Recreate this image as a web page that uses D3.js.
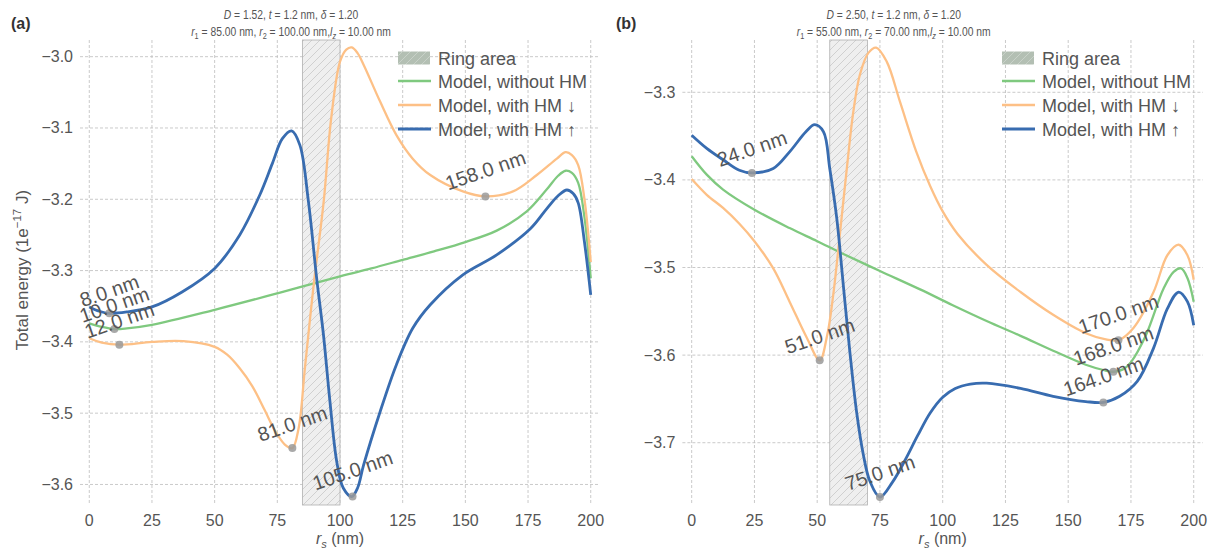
<!DOCTYPE html>
<html>
<head>
<meta charset="utf-8">
<script src="https://cdn.jsdelivr.net/npm/d3@7"></script>
<style>
  body { margin: 0; background: #fff; }
  text { font-family: "Liberation Sans", Arial, sans-serif; }
</style>
</head>
<body>
<svg id="chart"></svg>
<script>
let width = 1215;
let height = 549;

// ---- panel (a) data: D = 1.52, r1 = 85, r2 = 100 ----
let greenA_x = [0, 5, 10, 15, 25, 50, 75, 100, 112.5, 125, 137.5, 150, 162.5, 174.5, 182.5, 187, 190, 192.5, 195, 197.5, 200];
let greenA_y = [-3.374, -3.379, -3.382, -3.381, -3.376, -3.355, -3.332, -3.308, -3.297, -3.285, -3.273, -3.26, -3.244, -3.217, -3.186, -3.167, -3.160, -3.163, -3.177, -3.225, -3.311];

let orangeA_x = [0, 5, 12, 25, 37.5, 50, 55, 60, 65, 70, 74, 78, 81, 83.5, 86, 89.5, 93.5, 96.5, 100, 102.5, 104.7, 107, 109.5, 116, 122.5, 129, 136, 149, 158, 169, 178.5, 186.5, 190, 192.5, 195, 197.5, 200];
let orangeA_y = [-3.395, -3.401, -3.404, -3.400, -3.399, -3.407, -3.418, -3.437, -3.462, -3.496, -3.524, -3.544, -3.549, -3.521, -3.437, -3.32, -3.203, -3.086, -3.007, -2.99, -2.987, -2.995, -3.012, -3.063, -3.11, -3.143, -3.166, -3.189, -3.196, -3.189, -3.166, -3.143, -3.134, -3.138, -3.152, -3.2, -3.288];

let blueA_x = [0, 4, 8, 15, 25, 37, 50, 60, 68, 73, 77, 80.7, 84, 87.4, 90.7, 93.4, 96, 98.7, 101.3, 104.7, 107, 109.4, 116, 122.5, 129, 136, 149, 162.5, 176, 182.5, 187, 190.5, 193, 195, 197.5, 200];
let blueA_y = [-3.351, -3.357, -3.360, -3.358, -3.351, -3.33, -3.297, -3.25, -3.194, -3.150, -3.115, -3.104, -3.124, -3.203, -3.311, -3.39, -3.484, -3.568, -3.605, -3.617, -3.605, -3.573, -3.498, -3.432, -3.381, -3.348, -3.306, -3.278, -3.241, -3.213, -3.195, -3.187, -3.192, -3.205, -3.26, -3.334];

let notesA_x = [8, 10, 12, 81, 105, 158];
let notesA_y = [-3.360, -3.382, -3.404, -3.549, -3.617, -3.196];

// ---- panel (b) data: D = 2.50, r1 = 55, r2 = 70 ----
let greenB_x = [0, 6, 12.5, 25, 39, 50, 60, 75, 91, 104, 117.5, 131, 144, 157, 164, 168, 172, 175, 181, 188, 192, 195, 197.5, 200];
let greenB_y = [-3.373, -3.394, -3.411, -3.434, -3.455, -3.47, -3.484, -3.504, -3.525, -3.543, -3.561, -3.578, -3.595, -3.611, -3.617, -3.619, -3.616, -3.608, -3.577, -3.524, -3.505, -3.501, -3.512, -3.539];

let orangeB_x = [0, 6, 12.5, 19, 25, 32.5, 39, 46, 51, 54, 56.4, 59, 61.8, 64.4, 67, 70.4, 73.5, 77.7, 83, 89.5, 95, 100, 106, 117.5, 131, 144, 157, 165, 170, 176, 184, 189.5, 194, 197.5, 200];
let orangeB_y = [-3.399, -3.417, -3.432, -3.45, -3.47, -3.501, -3.539, -3.581, -3.606, -3.577, -3.531, -3.463, -3.387, -3.322, -3.28, -3.255, -3.249, -3.265, -3.311, -3.368, -3.407, -3.436, -3.462, -3.497, -3.528, -3.554, -3.575, -3.582, -3.583, -3.569, -3.528, -3.486, -3.474, -3.486, -3.514];

let blueB_x = [0, 6, 12.5, 19, 24, 32.5, 39, 45.5, 49, 52.5, 55, 57.8, 60.4, 63, 65.7, 68.4, 71, 75, 80, 85, 90, 95, 100, 105, 111, 117.5, 131, 144, 157, 164, 170.5, 177.5, 184, 189.5, 194, 197.5, 200];
let blueB_y = [-3.349, -3.364, -3.377, -3.389, -3.392, -3.387, -3.368, -3.345, -3.337, -3.345, -3.387, -3.444, -3.52, -3.596, -3.665, -3.714, -3.744, -3.762, -3.745, -3.72, -3.692, -3.666, -3.648, -3.638, -3.633, -3.632, -3.638, -3.647, -3.653, -3.654, -3.647, -3.63, -3.592, -3.547, -3.528, -3.539, -3.566];

let notesB_x = [24, 51, 75, 170, 168, 164];
let notesB_y = [-3.392, -3.606, -3.762, -3.583, -3.619, -3.654];

// axis ticks
let xTicks = [0, 25, 50, 75, 100, 125, 150, 175, 200];
let yTicksA = [-3.6, -3.5, -3.4, -3.3, -3.2, -3.1, -3.0];
let yTicksB = [-3.7, -3.6, -3.5, -3.4, -3.3];

let legendLabels = ['Ring area', 'Model, without HM', 'Model, with HM \u2193', 'Model, with HM \u2191'];
let colors = {green: '#7fc97f', orange: '#fdc086', blue: '#386cb0'};

let svg = d3.select('#chart')
  .attr('width', width)
  .attr('height', height);

svg.append('rect').attr('width', width).attr('height', height).attr('fill', '#fff');

// hatch pattern for the ring area
let defs = svg.append('defs');
function hatch(id, bg, fg) {
  let p = defs.append('pattern')
    .attr('id', id)
    .attr('patternUnits', 'userSpaceOnUse')
    .attr('width', 8).attr('height', 8);
  p.append('rect').attr('width', 8).attr('height', 8).attr('fill', bg);
  p.append('path').attr('d', 'M-2,2 L2,-2 M0,8 L8,0 M6,10 L10,6')
    .attr('stroke', fg).attr('stroke-width', 0.8);
}
hatch('hatchPlot', '#efefef', '#c8c8c8');
hatch('hatchLegend', '#b3bfb3', '#cdd5cd');

function fmt(v) {
  return d3.format('.1f')(v).replace('-', '\u2212');
}

function drawPanel(cfg) {
  let x = d3.scaleLinear().domain([-3.7, 203.7]).range([cfg.left, cfg.right]);
  let y = d3.scaleLinear().domain(cfg.yDomain).range([505, 40]);
  let g = svg.append('g');

  // grid
  g.selectAll('.vgrid').data(xTicks).enter().append('line')
    .attr('x1', d => x(d)).attr('x2', d => x(d))
    .attr('y1', 40).attr('y2', 505)
    .attr('stroke', '#bdbdbd').attr('stroke-width', 0.8).attr('stroke-dasharray', '3,2');
  g.selectAll('.hgrid').data(cfg.yTicks).enter().append('line')
    .attr('x1', cfg.left).attr('x2', cfg.right)
    .attr('y1', d => y(d)).attr('y2', d => y(d))
    .attr('stroke', '#bdbdbd').attr('stroke-width', 0.8).attr('stroke-dasharray', '3,2');

  // tick labels
  g.selectAll('.xt').data(xTicks).enter().append('text')
    .attr('x', d => x(d)).attr('y', 526)
    .attr('text-anchor', 'middle').attr('font-size', 16).attr('fill', '#555')
    .text(d => d);
  g.selectAll('.yt').data(cfg.yTicks).enter().append('text')
    .attr('x', cfg.left - 7).attr('y', d => y(d) + 5.5)
    .attr('text-anchor', 'end').attr('font-size', 16).attr('fill', '#555')
    .text(d => fmt(d));

  // ring area
  g.append('rect')
    .attr('x', x(cfg.ring[0])).attr('width', x(cfg.ring[1]) - x(cfg.ring[0]))
    .attr('y', 40).attr('height', 465)
    .attr('fill', 'url(#hatchPlot)').attr('stroke', '#b0b0b0').attr('stroke-width', 0.8);

  // curves
  let line = d3.line()
    .x(d => x(d[0]))
    .y(d => y(d[1]))
    .curve(d3.curveCatmullRom.alpha(0.5));

  cfg.series.forEach(s => {
    g.append('path')
      .datum(d3.zip(s.xs, s.ys))
      .attr('fill', 'none')
      .attr('stroke', s.color)
      .attr('stroke-width', s.w)
      .attr('stroke-linejoin', 'round')
      .attr('d', line);
  });

  // annotated minima
  let notes = d3.zip(cfg.notesX, cfg.notesY);
  g.selectAll('.dot').data(notes).enter().append('circle')
    .attr('cx', d => x(d[0])).attr('cy', d => y(d[1])).attr('r', 4)
    .attr('fill', '#9a9a9a').attr('opacity', 0.85);

  let ang = 19 * Math.PI / 180;
  notes.forEach(d => {
    let t = g.append('text')
      .attr('font-size', 20).attr('fill', '#555')
      .attr('text-anchor', 'middle').attr('dominant-baseline', 'central')
      .text(d[0].toFixed(1) + ' nm');
    let w = t.node().getComputedTextLength();
    let H = w * Math.sin(ang) + 14 * Math.cos(ang);
    t.attr('transform', `translate(${x(d[0])},${y(d[1]) - 6 - H / 2}) rotate(-19)`);
  });

  // title (two lines, slightly condensed like the original)
  let cx = (cfg.left + cfg.right) / 2 - 49;
  let tg = g.append('g').attr('transform', `translate(${cx},0) scale(0.86,1)`);
  let t1 = tg.append('text').attr('x', 0).attr('y', 19)
    .attr('text-anchor', 'middle').attr('font-size', 12).attr('fill', '#555');
  t1.append('tspan').attr('font-style', 'italic').text('D');
  t1.append('tspan').text(' = ' + cfg.D + ', ');
  t1.append('tspan').attr('font-style', 'italic').text('t');
  t1.append('tspan').text(' = 1.2 nm, ');
  t1.append('tspan').attr('font-style', 'italic').text('\u03b4');
  t1.append('tspan').text(' = 1.20');

  let t2 = tg.append('text').attr('x', 0).attr('y', 36)
    .attr('text-anchor', 'middle').attr('font-size', 12).attr('fill', '#555');
  t2.append('tspan').attr('font-style', 'italic').text('r');
  t2.append('tspan').attr('font-size', 8.5).attr('dy', 3).text('1');
  t2.append('tspan').attr('dy', -3).text(' = ' + cfg.r1 + ' nm, ');
  t2.append('tspan').attr('font-style', 'italic').text('r');
  t2.append('tspan').attr('font-size', 8.5).attr('dy', 3).text('2');
  t2.append('tspan').attr('dy', -3).text(' = ' + cfg.r2 + ' nm,');
  t2.append('tspan').attr('font-style', 'italic').text('l');
  t2.append('tspan').attr('font-size', 8.5).attr('font-style', 'italic').attr('dy', 3).text('z');
  t2.append('tspan').attr('dy', -3).text(' = 10.00 nm');

  // panel letter
  g.append('text').attr('x', cfg.letterX).attr('y', 29)
    .attr('font-size', 16).attr('font-weight', 'bold').attr('fill', '#333')
    .text(cfg.letter);

  // x axis label
  let xl = g.append('text').attr('x', x(100)).attr('y', 544)
    .attr('text-anchor', 'middle').attr('font-size', 16).attr('fill', '#555');
  xl.append('tspan').attr('font-style', 'italic').text('r');
  xl.append('tspan').attr('font-style', 'italic').attr('font-size', 11).attr('dy', 4).text('s');
  xl.append('tspan').attr('dy', -4).text(' (nm)');

  // legend
  let lg = g.append('g').attr('transform', `translate(${cfg.legendX},0)`);
  let rowY = [58, 81, 105, 129];
  lg.append('rect').attr('x', 0).attr('y', rowY[0] - 6.5).attr('width', 32).attr('height', 13)
    .attr('fill', 'url(#hatchLegend)');
  [colors.green, colors.orange, colors.blue].forEach((c, i) => {
    lg.append('line').attr('x1', 0).attr('x2', 33)
      .attr('y1', rowY[i + 1]).attr('y2', rowY[i + 1])
      .attr('stroke', c).attr('stroke-width', i === 2 ? 3 : 2.6);
  });
  legendLabels.forEach((lab, i) => {
    lg.append('text').attr('x', 40).attr('y', rowY[i] + 6.5)
      .attr('font-size', 18).attr('fill', '#555').text(lab);
  });
}

drawPanel({
  left: 80, right: 600,
  yDomain: [-3.6288, -2.9766], yTicks: yTicksA,
  ring: [85, 100],
  series: [
    {xs: greenA_x, ys: greenA_y, color: colors.green, w: 2.3},
    {xs: orangeA_x, ys: orangeA_y, color: colors.orange, w: 2.3},
    {xs: blueA_x, ys: blueA_y, color: colors.blue, w: 2.8}
  ],
  notesX: notesA_x, notesY: notesA_y,
  D: '1.52', r1: '85.00', r2: '100.00',
  letter: '(a)', letterX: 11, legendX: 398
});

drawPanel({
  left: 682.4, right: 1203,
  yDomain: [-3.7711, -3.2403], yTicks: yTicksB,
  ring: [55, 70],
  series: [
    {xs: greenB_x, ys: greenB_y, color: colors.green, w: 2.3},
    {xs: orangeB_x, ys: orangeB_y, color: colors.orange, w: 2.3},
    {xs: blueB_x, ys: blueB_y, color: colors.blue, w: 2.8}
  ],
  notesX: notesB_x, notesY: notesB_y,
  D: '2.50', r1: '55.00', r2: '70.00',
  letter: '(b)', letterX: 616, legendX: 1002
});

// y label (only on panel a)
let yl = svg.append('text')
  .attr('transform', 'translate(28,270) rotate(-90)')
  .attr('text-anchor', 'middle').attr('font-size', 17).attr('fill', '#555');
yl.append('tspan').text('Total energy (1e');
yl.append('tspan').attr('font-size', 11.5).attr('dy', -7).text('\u221217');
yl.append('tspan').attr('dy', 7).text('  J)');
</script>
</body>
</html>
